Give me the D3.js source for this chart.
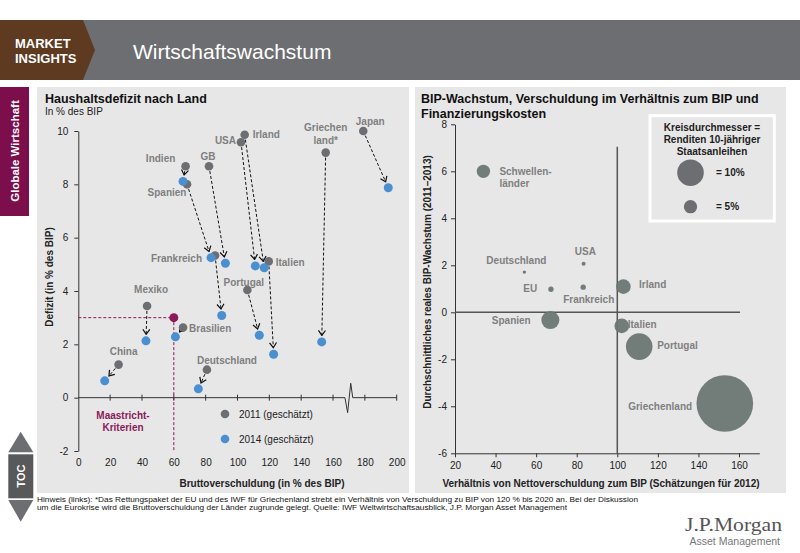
<!DOCTYPE html>
<html>
<head>
<meta charset="utf-8">
<script src="https://cdn.jsdelivr.net/npm/d3@7"></script>
<style>
  body { margin: 0; background: #fff; }
  text { font-family: "Liberation Sans", Arial, sans-serif; }
</style>
</head>
<body>
<script>
// ---- data: left chart (Haushaltsdefizit) ----
var countries = ["Japan", "Griechen\nland*", "Irland", "USA", "Italien", "GB", "Indien",
                 "Spanien", "Frankreich", "Portugal", "Mexiko", "Brasilien", "China", "Deutschland"];
var debt2011    = [179, 155.4, 104.5, 102.2, 119.6, 82.1, 67.4, 68.3, 85.9, 106.2, 43.2, 65.8, 25.3, 80.8];
var deficit2011 = [10.0, 9.19, 9.86, 9.58, 5.11, 8.68, 8.68, 8.0, 5.33, 4.04, 3.44, 2.63, 1.24, 1.05];
var debt2014    = [194.7, 152.9, 116.8, 111.2, 122.7, 92.4, 65.8, 83.4, 90.1, 113.7, 42.5, 61, 16.6, 75.4];
var deficit2014 = [7.87, 2.09, 4.87, 4.94, 1.63, 5.04, 8.11, 5.25, 3.08, 2.34, 2.13, 2.28, 0.63, 0.33];
var maastricht  = [60, 3];
var leftXTicks  = [0, 20, 40, 60, 80, 100, 120, 140, 160, 180, 200];
var leftYTicks  = [-2, 0, 2, 4, 6, 8, 10];
var seriesNames = ["2011 (geschätzt)", "2014 (geschätzt)"];

// ---- data: right chart (BIP-Wachstum) ----
var regions = ["Schwellen-\nländer", "Deutschland", "USA", "EU", "Frankreich", "Irland",
               "Spanien", "Italien", "Portugal", "Griechenland"];
var netDebt = [34, 54.2, 83.4, 67.3, 83.2, 103, 67, 102.2, 110.8, 153];
var growth  = [6.0, 1.71, 2.07, 0.98, 1.07, 1.09, -0.33, -0.58, -1.46, -3.88];
var yields  = [5, 1.3, 1.5, 2, 2, 5.5, 6.8, 5.5, 10, 21.3];
var sizeLegend  = [10, 5];
var rightXTicks = [20, 40, 60, 80, 100, 120, 140, 160];
var rightYTicks = [-6, -4, -2, 0, 2, 4, 6, 8];

// label placement (px offsets from the 2011 point / bubble centre)
var leftLabelPos = [[7,-10,"middle"],[0,-25,"middle"],[8,0,"start"],[-5,-2,"end"],[7,1.5,"start"],
  [-1,-10,"middle"],[-25,-8,"middle"],[-20,8,"middle"],[-13,2.7,"end"],[-3.5,-7.7,"middle"],
  [4,-16.7,"middle"],[6,1.3,"start"],[5,-12.7,"middle"],[20,-9,"middle"]];
var rightLabelPos = [[16,0,"start"],[-8,-11.3,"middle"],[1.7,-12,"middle"],[-13.7,-0.6,"end"],
  [5.5,12,"middle"],[15.7,-2.4,"start"],[-19.6,0.7,"end"],[6,-1.7,"start"],[18,-1.4,"start"],
  [-32.7,2.7,"end"]];

var W = 800, H = 553;
var panelFill = "#e7e7e7", grey = "#6d6e71", blue = "#4a8fd0", labelGrey = "#7f7f7f",
    bubble = "#6c7774", magenta = "#8b1a5a";
var plain = function(d) { return String(d); };   // keep "-2" with a hyphen like the original

var svg = d3.select("body").append("svg").attr("width", W).attr("height", H);

// ---- header ----
svg.append("rect").attr("x", 0).attr("y", 20).attr("width", W).attr("height", 60).attr("fill", "#6d6e71");
svg.append("path").attr("d", "M0,20H83L95,50L83,80H0Z").attr("fill", "#5e3a20");
svg.append("text").attr("x", 15).attr("y", 48).text("MARKET")
  .attr("fill", "#fff").attr("font-size", 13).attr("font-weight", "bold");
svg.append("text").attr("x", 15).attr("y", 62.5).text("INSIGHTS")
  .attr("fill", "#fff").attr("font-size", 13).attr("font-weight", "bold");
svg.append("text").attr("x", 133).attr("y", 59).text("Wirtschaftswachstum")
  .attr("fill", "#fff").attr("font-size", 21);

// ---- side bar ----
svg.append("rect").attr("x", 0).attr("y", 87).attr("width", 29).attr("height", 129).attr("fill", "#7d0e4c");
svg.append("text").attr("transform", "translate(19,151) rotate(-90)").attr("text-anchor", "middle")
  .attr("fill", "#fff").attr("font-size", 11.5).attr("font-weight", "bold").text("Globale Wirtschaft");
svg.append("path").attr("d", "M20.7,431.7L33.3,452.3H8.3Z").attr("fill", grey);
svg.append("rect").attr("x", 8.3).attr("y", 454.3).attr("width", 25).attr("height", 44).attr("fill", "#58595b");
svg.append("path").attr("d", "M8.3,500H33.3L20.7,521.7Z").attr("fill", grey);
svg.append("text").attr("transform", "translate(25,476) rotate(-90)").attr("text-anchor", "middle")
  .attr("fill", "#fff").attr("font-size", 11).attr("font-weight", "bold").text("TOC");

// ---- panels ----
svg.append("rect").attr("x", 37).attr("y", 87).attr("width", 372).attr("height", 406).attr("fill", panelFill);
svg.append("rect").attr("x", 415).attr("y", 87).attr("width", 371).attr("height", 406).attr("fill", panelFill);

function styleAxis(g) {
  g.selectAll("text").attr("font-size", 10).attr("fill", "#222")
    .style("font-family", "'Liberation Sans', Arial, sans-serif");
  g.selectAll("line, path").attr("stroke", "#333");
}

// ================= LEFT CHART =================
var L = svg.append("g");
L.append("text").attr("x", 45).attr("y", 103).attr("font-size", 12.5).attr("font-weight", "bold")
  .attr("fill", "#111").text("Haushaltsdefizit nach Land");
L.append("text").attr("x", 45).attr("y", 115).attr("font-size", 10).attr("fill", "#222").text("In % des BIP");

var xL = d3.scaleLinear().domain([0, 200]).range([78.3, 396.7]);
var yL = d3.scaleLinear().domain([-2, 10]).range([451, 131]);

// y axis
L.append("g").attr("transform", "translate(" + xL(0) + ",0)")
  .call(d3.axisLeft(yL).tickValues(leftYTicks).tickFormat(plain)
    .tickSizeInner(4).tickSizeOuter(0).tickPadding(6))
  .call(styleAxis);

// x tick labels at the bottom
L.append("g").attr("transform", "translate(0," + yL(-2) + ")")
  .call(d3.axisBottom(xL).tickValues(leftXTicks).tickFormat(plain).tickSize(0).tickPadding(8))
  .call(styleAxis)
  .call(function(g) { g.select(".domain").remove(); });

// x axis line at 0 with crossing ticks and a break
var y0 = yL(0), bx = xL(170);
L.append("path").attr("fill", "none").attr("stroke", "#333").attr("stroke-width", 1)
  .attr("d", "M" + xL(0) + "," + y0 + "H" + (bx - 4) + "L" + (bx - 1.3) + "," + (y0 + 15) +
             "L" + (bx + 1.8) + "," + (y0 - 14.4) + "L" + (bx + 3.8) + "," + y0 + "H" + xL(200));
L.selectAll(".xtick").data(leftXTicks.slice(1)).enter().append("line")
  .attr("x1", function(d) { return xL(d); }).attr("x2", function(d) { return xL(d); })
  .attr("y1", y0 - 3).attr("y2", y0 + 3).attr("stroke", "#333");

// axis titles
L.append("text").attr("x", 262).attr("y", 487).attr("text-anchor", "middle")
  .attr("font-size", 10).attr("font-weight", "bold").attr("fill", "#222")
  .text("Bruttoverschuldung (in % des BIP)");
L.append("text").attr("transform", "translate(53,277) rotate(-90)").attr("text-anchor", "middle")
  .attr("font-size", 10).attr("font-weight", "bold").attr("fill", "#222")
  .text("Defizit (in % des BIP)");

// Maastricht criteria
L.append("path").attr("fill", "none").attr("stroke", magenta).attr("stroke-dasharray", "3,2")
  .attr("d", "M" + xL(0) + "," + yL(maastricht[1]) + "H" + xL(maastricht[0]) + "V" + yL(-2));
L.append("circle").attr("cx", xL(maastricht[0])).attr("cy", yL(maastricht[1])).attr("r", 4.5)
  .attr("fill", magenta);
L.append("text").attr("x", 123).attr("y", 419).attr("text-anchor", "middle").attr("font-size", 10)
  .attr("font-weight", "bold").attr("fill", magenta).text("Maastricht-");
L.append("text").attr("x", 123).attr("y", 431).attr("text-anchor", "middle").attr("font-size", 10)
  .attr("font-weight", "bold").attr("fill", magenta).text("Kriterien");

// arrow marker
svg.append("defs").append("marker").attr("id", "arr")
  .attr("viewBox", "-7 -5 8 10").attr("refX", 0).attr("refY", 0)
  .attr("markerWidth", 8).attr("markerHeight", 10).attr("markerUnits", "userSpaceOnUse")
  .attr("orient", "auto")
  .append("path").attr("d", "M-5,-3.5L0,0L-5,3.5").attr("fill", "none")
  .attr("stroke", "#111").attr("stroke-width", 1.2);

var pts = countries.map(function(c, i) {
  return { name: c, x1: xL(debt2011[i]), y1: yL(deficit2011[i]), x2: xL(debt2014[i]), y2: yL(deficit2014[i]), pos: leftLabelPos[i] };
});

L.selectAll(".arrow").data(pts).enter().append("line")
  .each(function(d) {
    var dx = d.x2 - d.x1, dy = d.y2 - d.y1, len = Math.sqrt(dx * dx + dy * dy);
    var ux = dx / len, uy = dy / len;
    d3.select(this)
      .attr("x1", d.x1 + ux * 5).attr("y1", d.y1 + uy * 5)
      .attr("x2", d.x2 - ux * 6.5).attr("y2", d.y2 - uy * 6.5);
  })
  .attr("stroke", "#111").attr("stroke-width", 1).attr("stroke-dasharray", "3,2")
  .attr("marker-end", "url(#arr)");

L.selectAll(".p11").data(pts).enter().append("circle")
  .attr("cx", function(d) { return d.x1; }).attr("cy", function(d) { return d.y1; })
  .attr("r", 4.3).attr("fill", grey);
L.selectAll(".p14").data(pts).enter().append("circle")
  .attr("cx", function(d) { return d.x2; }).attr("cy", function(d) { return d.y2; })
  .attr("r", 4.5).attr("fill", blue);

L.selectAll(".lbl").data(pts).enter().append("text")
  .attr("text-anchor", function(d) { return d.pos[2]; })
  .attr("font-size", 10).attr("font-weight", "bold").attr("fill", labelGrey)
  .each(function(d) {
    var t = d3.select(this);
    d.name.split("\n").forEach(function(s, k) {
      t.append("tspan").attr("x", d.x1 + d.pos[0]).attr("y", d.y1 + d.pos[1] + 3.5 + k * 13).text(s);
    });
  });

// legend
var legColors = [grey, blue];
var leg = L.selectAll(".leg").data(seriesNames).enter().append("g")
  .attr("transform", function(d, i) { return "translate(225," + (414 + i * 25) + ")"; });
leg.append("circle").attr("r", 4.3).attr("fill", function(d, i) { return legColors[i]; });
leg.append("text").attr("x", 14).attr("y", 3.6).attr("font-size", 10).attr("fill", "#222")
  .text(function(d) { return d; });

// ================= RIGHT CHART =================
var R = svg.append("g");
R.append("text").attr("x", 421).attr("y", 103).attr("font-size", 12.5).attr("font-weight", "bold")
  .attr("fill", "#111").text("BIP-Wachstum, Verschuldung im Verhältnis zum BIP und");
R.append("text").attr("x", 421).attr("y", 117.5).attr("font-size", 12.5).attr("font-weight", "bold")
  .attr("fill", "#111").text("Finanzierungskosten");

var xR = d3.scaleLinear().domain([20, 170]).range([455, 759.3]);
var yR = d3.scaleLinear().domain([-6, 8]).range([453.3, 124.3]);
var rR = d3.scaleLinear().domain([0, 10]).range([0, 13.3]);

R.append("g").attr("transform", "translate(" + xR(20) + ",0)")
  .call(d3.axisLeft(yR).tickValues(rightYTicks).tickFormat(plain)
    .tickSizeInner(4).tickSizeOuter(0).tickPadding(4))
  .call(styleAxis);
R.append("g").attr("transform", "translate(0," + yR(-6) + ")")
  .call(d3.axisBottom(xR).tickValues(rightXTicks).tickFormat(plain)
    .tickSizeInner(4).tickSizeOuter(0).tickPadding(5))
  .call(styleAxis);

// quadrant lines
R.append("line").attr("x1", xR(100)).attr("x2", xR(100)).attr("y1", yR(7.05)).attr("y2", yR(-6))
  .attr("stroke", "#555").attr("stroke-width", 1.5);
R.append("line").attr("x1", xR(20)).attr("x2", xR(160.5)).attr("y1", yR(0)).attr("y2", yR(0))
  .attr("stroke", "#555").attr("stroke-width", 1.5);

var bub = regions.map(function(r, i) {
  return { name: r, x: xR(netDebt[i]), y: yR(growth[i]), r: rR(yields[i]), pos: rightLabelPos[i] };
});
R.selectAll(".bub").data(bub).enter().append("circle")
  .attr("cx", function(d) { return d.x; }).attr("cy", function(d) { return d.y; })
  .attr("r", function(d) { return d.r; }).attr("fill", bubble).attr("fill-opacity", 0.95);
R.selectAll(".blbl").data(bub).enter().append("text")
  .attr("text-anchor", function(d) { return d.pos[2]; })
  .attr("font-size", 10).attr("font-weight", "bold").attr("fill", labelGrey)
  .each(function(d) {
    var t = d3.select(this);
    d.name.split("\n").forEach(function(s, k) {
      t.append("tspan").attr("x", d.x + d.pos[0]).attr("y", d.y + d.pos[1] + 3.5 + k * 11.7).text(s);
    });
  });

R.append("text").attr("transform", "translate(431,282) rotate(-90)").attr("text-anchor", "middle")
  .attr("font-size", 10).attr("font-weight", "bold").attr("fill", "#222")
  .text("Durchschnittliches reales BIP-Wachstum (2011–2013)");
R.append("text").attr("x", 601).attr("y", 487).attr("text-anchor", "middle")
  .attr("font-size", 10).attr("font-weight", "bold").attr("fill", "#222")
  .text("Verhältnis von Nettoverschuldung zum BIP (Schätzungen für 2012)");

// size legend
R.append("rect").attr("x", 650).attr("y", 115.7).attr("width", 124.3).attr("height", 105.3)
  .attr("fill", "none").attr("stroke", "#fff").attr("stroke-width", 3);
["Kreisdurchmesser =", "Renditen 10-jähriger", "Staatsanleihen"].forEach(function(s, k) {
  R.append("text").attr("x", 712).attr("y", 130.5 + k * 12.3).attr("text-anchor", "middle")
    .attr("font-size", 10).attr("font-weight", "bold").attr("fill", "#222").text(s);
});
var sl = R.selectAll(".sl").data(sizeLegend).enter().append("g")
  .attr("transform", function(d, i) { return "translate(690.5," + (172.7 + i * 34) + ")"; });
sl.append("circle").attr("r", function(d) { return rR(d); }).attr("fill", "#6d6e71");
sl.append("text").attr("x", 25.5).attr("y", 3.6).attr("font-size", 10).attr("font-weight", "bold")
  .attr("fill", "#222").text(function(d) { return "= " + d + "%"; });

// ---- footer ----
svg.append("text").attr("x", 37).attr("y", 501.5).attr("font-size", 7.8).attr("fill", "#111")
  .style("font-family", "'Liberation Sans Narrow', 'Liberation Sans', Arial, sans-serif")
  .attr("textLength", 601).attr("lengthAdjust", "spacingAndGlyphs")
  .text("Hinweis (links): *Das Rettungspaket der EU und des IWF für Griechenland strebt ein Verhältnis von Verschuldung zu BIP von 120 % bis 2020 an. Bei der Diskussion");
svg.append("text").attr("x", 37).attr("y", 510).attr("font-size", 7.8).attr("fill", "#111")
  .style("font-family", "'Liberation Sans Narrow', 'Liberation Sans', Arial, sans-serif")
  .attr("textLength", 530).attr("lengthAdjust", "spacingAndGlyphs")
  .text("um die Eurokrise wird die Bruttoverschuldung der Länder zugrunde gelegt.  Quelle: IWF Weltwirtschaftsausblick, J.P. Morgan Asset Management");

svg.append("text").attr("x", 782).attr("y", 531).attr("text-anchor", "end").attr("font-size", 19)
  .style("font-family", "'Liberation Serif', 'DejaVu Serif', serif").attr("fill", "#555")
  .attr("textLength", 97).attr("lengthAdjust", "spacingAndGlyphs").text("J.P.Morgan");
svg.append("text").attr("x", 780).attr("y", 545).attr("text-anchor", "end").attr("font-size", 10.5)
  .attr("fill", "#777").text("Asset Management");
</script>
</body>
</html>
